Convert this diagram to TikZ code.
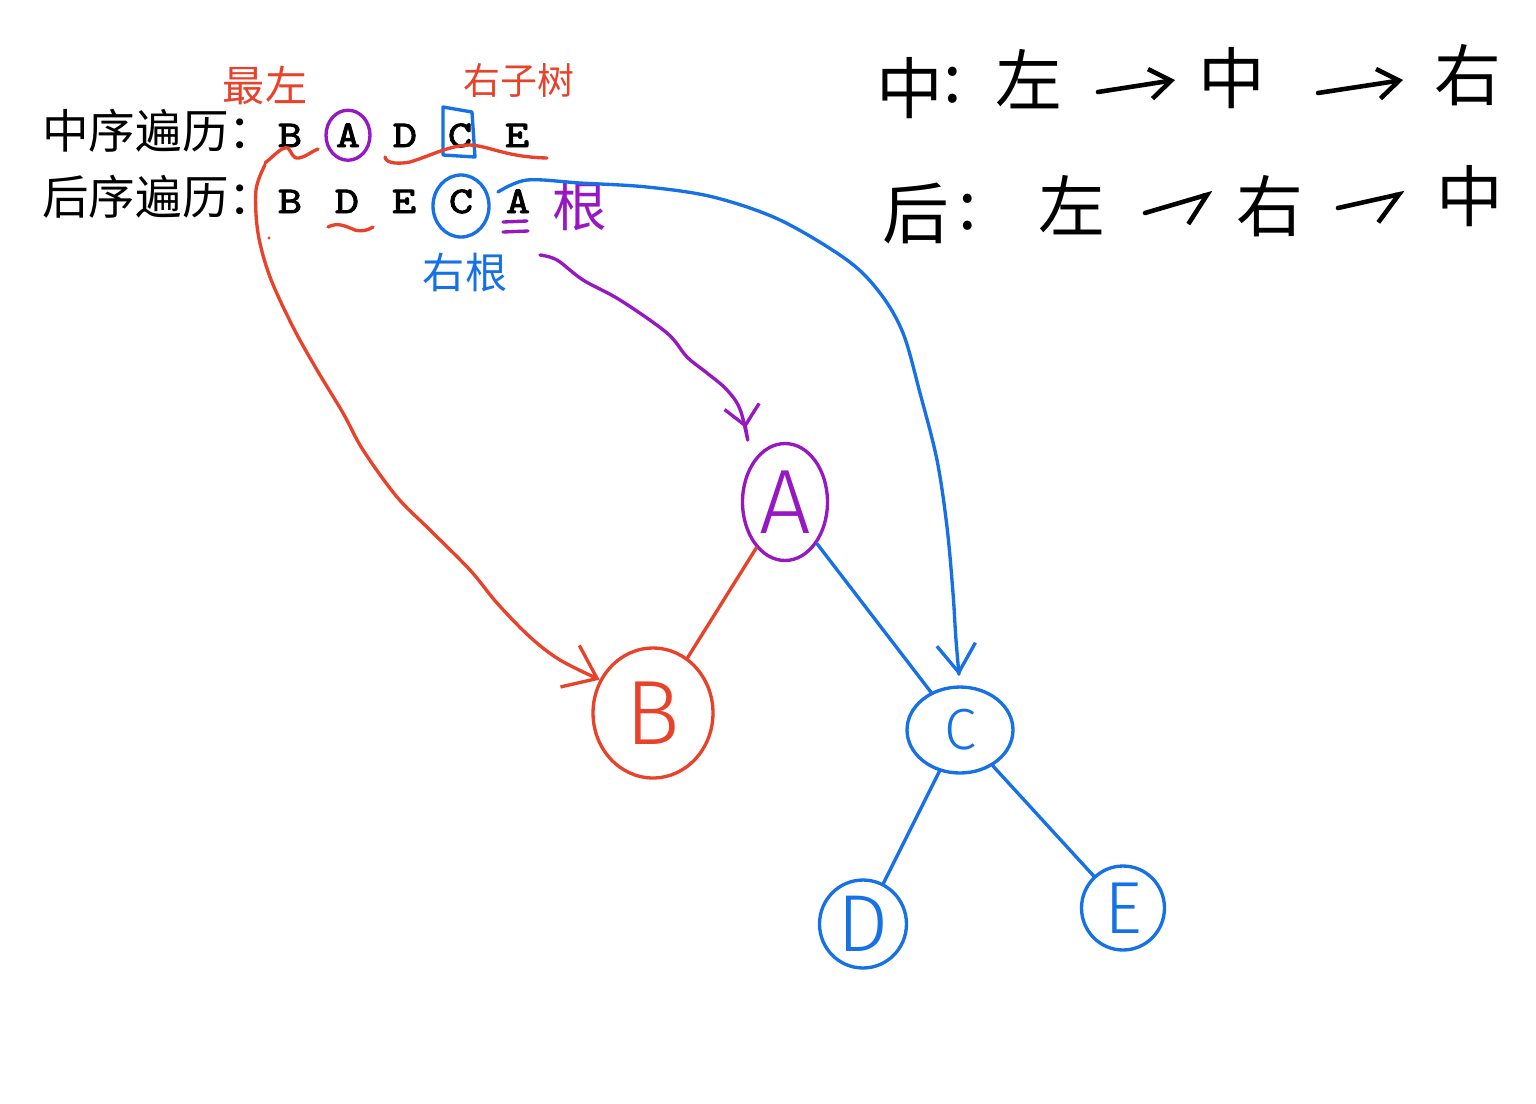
\documentclass[tikz,border=0pt]{standalone}
\usepackage{fontspec}
\setmainfont{Liberation Sans}
\newfontfamily\cjk{Noto Sans CJK SC}
\newfontfamily\lett[FakeStretch=1.22,FakeBold=2.5]{lmmono10-regular.otf}
\newfontfamily\hand{Fira Sans Light}
\usetikzlibrary{shapes.geometric,arrows.meta}
\definecolor{hred}{RGB}{232,66,42}
\definecolor{hpur}{RGB}{151,24,194}
\definecolor{hblu}{RGB}{22,113,230}
\begin{document}
\begin{tikzpicture}[x=0.02cm,y=-0.02cm,
  stroke/.style={line width=1.9pt,line cap=round,line join=round},
  redc/.style={stroke,draw=hred},
  purc/.style={stroke,draw=hpur},
  bluc/.style={stroke,draw=hblu},
  tnode/.style={ellipse,draw,line width=1.9pt,inner sep=0pt},
  seq/.style={anchor=base,inner sep=0pt,font={\lett\fontsize{21.5}{25}\selectfont}},
  lab/.style={anchor=base west,inner sep=0pt,font={\cjk\fontsize{26.5}{31}\selectfont}},
  hw/.style={inner sep=0pt,font={\cjk\fontsize{38}{44}\selectfont}},
  blk/.style={line width=2.6pt,line cap=round,line join=round},
  harrow/.style={blk,-{Straight Barb[length=12pt,width=17pt]}},
  hook/.style={blk,-{Straight Barb[harpoon,swap,length=15pt,width=26pt]}},
  redtip/.style={-{Straight Barb[length=17pt,width=26pt]}},
  purtip/.style={-{Straight Barb[length=11pt,width=20pt]}},
  blutip/.style={-{Straight Barb[length=16pt,width=22pt]}}
]
\useasboundingbox (0,0) rectangle (1536,1103);
\fill[white] (0,0) rectangle (1536,1103);

% --- sequences ---
\node[lab] (inlab) at (42,148) {中序遍历：};
\node[lab] (polab) at (42,214) {后序遍历：};
\node[seq] (iB) at (290,147) {B};
\node[seq] (iA) at (348,147) {A};
\node[seq] (iD) at (405,147) {D};
\node[seq] (iC) at (460,147) {C};
\node[seq] (iE) at (517,147) {E};
\node[seq] (pB) at (290,213) {B};
\node[seq] (pD) at (347,213) {D};
\node[seq] (pE) at (404,213) {E};
\node[seq] (pC) at (461,213) {C};
\node[seq] (pA) at (518,213) {A};

% --- marks on the sequences ---
\draw[purc] (iA.center) ellipse [x radius=22, y radius=25];
\draw[bluc] (443,107) -- (472,112) -- (475,157) -- (443,155) -- cycle;
\draw[bluc] (461,206) ellipse [x radius=28, y radius=31];
\draw[purc] (503,222) -- (527,221);
\draw[purc] (503,232) -- (528,231);
\draw[redc] (265,163) .. controls (274,156) and (282,146) .. (288,148)
  .. controls (292,152) and (292,159) .. (299,158)
  .. controls (306,157) and (312,151) .. (318,149);
\draw[redc] (385,157) .. controls (386,164) and (400,164) .. (410,162)
  .. controls (430,156) and (450,145) .. (470,145)
  .. controls (490,146) and (505,157) .. (547,158);
\draw[redc] (328,227) .. controls (338,222) and (345,226) .. (355,230)
  .. controls (363,232) and (368,230) .. (373,227);
\fill[hred] (269,238) circle [radius=1.6];

% --- annotations ---
\node[inner sep=0pt,text=hred,font={\cjk\fontsize{24}{28}\selectfont}] (zuizuo) at (265,85) {最左};
\node[inner sep=0pt,text=hred,font={\cjk\fontsize{21}{25}\selectfont}] (youzishu) at (519,80) {右子树};
\node[inner sep=0pt,text=hpur,font={\cjk\fontsize{31}{36}\selectfont}] (gen) at (580,206) {根};
\node[inner sep=0pt,text=hblu,font={\cjk\fontsize{24}{28}\selectfont}] (yougen) at (465,272) {右根};

% --- rules on the right ---
\node[hw] (r1a) at (910,88) {中};
\node[hw] (r1c) at (953,85) {:};
\node[hw] (r1b) at (1029,79) {左};
\node[hw] (r1d) at (1232,78) {中};
\node[hw] (r1e) at (1468,75) {右};
\node[hw] (r2a) at (916,213) {后};
\node[hw] (r2c) at (968,212) {:};
\node[hw] (r2b) at (1072,205) {左};
\node[hw] (r2d) at (1270,206) {右};
\node[hw] (r2e) at (1470,196) {中};
\coordinate (a1s) at (1098,92);  \coordinate (a1e) at (1175,80);
\coordinate (a2s) at (1318,93);  \coordinate (a2e) at (1403,80);
\coordinate (a3s) at (1145,213); \coordinate (a3e) at (1213,193);
\coordinate (a4s) at (1338,208); \coordinate (a4e) at (1405,193);
\draw[harrow] (a1s) -- (a1e);
\draw[harrow] (a2s) -- (a2e);
\draw[hook] (a3s) -- (a3e);
\draw[hook] (a4s) -- (a4e);

% --- tree ---
\node[tnode,draw=hpur,text=hpur,minimum width=1.70cm,minimum height=2.34cm,font={\hand\fontsize{52}{60}\selectfont}] (A) at (785,502) {A};
\node[tnode,draw=hred,text=hred,minimum width=2.40cm,minimum height=2.60cm,font={\hand\fontsize{52}{60}\selectfont}] (B) at (653,713) {B};
\node[tnode,draw=hblu,text=hblu,minimum width=2.12cm,minimum height=1.72cm,font={\hand\fontsize{33}{40}\selectfont}] (C) at (960,730) {C};
\node[tnode,draw=hblu,text=hblu,minimum width=1.74cm,minimum height=1.76cm,font={\hand\fontsize{46}{54}\selectfont}] (D) at (863,924) {D};
\node[tnode,draw=hblu,text=hblu,minimum width=1.66cm,minimum height=1.68cm,font={\hand\fontsize{42}{50}\selectfont}] (E) at (1123,908) {E};

\draw[redc] (A) -- (B);
\draw[bluc] (A) -- (C);
\draw[bluc] (C) -- (D);
\draw[bluc] (C) -- (E);

% --- curved arrows ---
\coordinate (rs) at (265,165);
\coordinate (bs) at (498,192);
\coordinate (ps) at (540,255);
\draw[redc,redtip] plot[smooth,tension=0.55] coordinates {(rs) (256,190) (258,233) (270,277) (293,327) (317,370) (343,413) (363,450) (397,497) (430,530) (470,570) (497,603) (530,637) (560,660) (B.148)};
\draw[bluc,blutip,shorten >=0.2cm] plot[smooth,tension=0.55] coordinates {(bs) (527,180) (580,183) (647,187) (713,197) (780,220) (847,260) (880,293) (903,333) (920,393) (937,460) (947,527) (953,593) (956,640) (C.north)};
\draw[purc,purtip,shorten >=0.7cm] plot[smooth,tension=0.55] coordinates {(ps) (557,260) (583,280) (620,300) (667,333) (687,357) (707,373) (727,390) (741,412) (A.130)};
\end{tikzpicture}
\end{document}
